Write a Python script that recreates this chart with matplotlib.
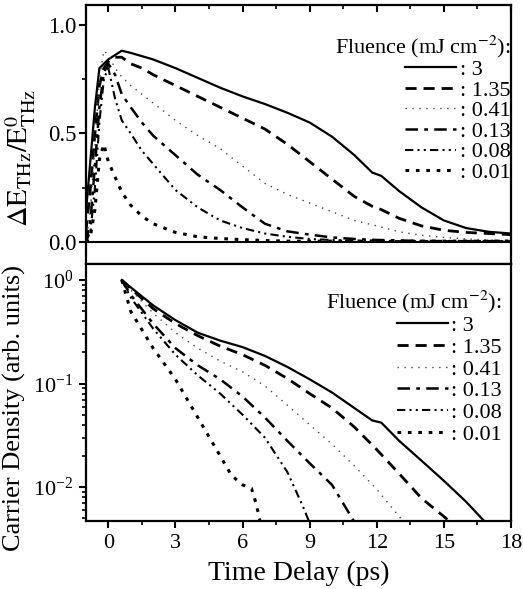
import matplotlib
matplotlib.use('Agg')
import matplotlib.pyplot as plt
from matplotlib.ticker import MultipleLocator, LogLocator, NullFormatter

plt.rcParams['font.family'] = ['Liberation Serif', 'DejaVu Serif']
plt.rcParams['mathtext.fontset'] = 'stix'

# fluence labels and line styles
fluences = ['3', '1.35', '0.41', '0.13', '0.08', '0.01']

# top panel: THz transmission change vs delay
t_top = [-1.0, -0.8, -0.6, -0.4, -0.2, 0.0, 0.3, 0.6, 1.0, 1.5, 2.0, 3.0, 4.0,
         5.0, 6.0, 7.0, 8.0, 9.0, 10.0, 11.0, 11.8, 12.2, 13.0, 14.0, 15.0,
         16.0, 17.0, 18.0]
dE_3 = [0.14, 0.38, 0.62, 0.80, 0.82, 0.84, 0.86, 0.88, 0.87, 0.855, 0.84,
        0.80, 0.755, 0.71, 0.67, 0.635, 0.595, 0.55, 0.485, 0.40, 0.32, 0.305,
        0.235, 0.16, 0.10, 0.065, 0.048, 0.04]
dE_135 = [0.05, 0.25, 0.50, 0.72, 0.80, 0.83, 0.85, 0.85, 0.82, 0.80, 0.77,
          0.72, 0.67, 0.62, 0.57, 0.52, 0.45, 0.37, 0.29, 0.21, 0.165, 0.15,
          0.11, 0.075, 0.055, 0.045, 0.04, 0.035]
dE_041 = [0.0, 0.15, 0.45, 0.75, 0.88, 0.86, 0.80, 0.76, 0.72, 0.68, 0.64,
          0.56, 0.49, 0.43, 0.35, 0.27, 0.22, 0.18, 0.14, 0.10, 0.08, 0.07,
          0.048, 0.032, 0.022, 0.015, 0.01, 0.008]
dE_013 = [0.0, 0.10, 0.35, 0.62, 0.78, 0.82, 0.77, 0.68, 0.62, 0.55, 0.49,
          0.40, 0.31, 0.24, 0.16, 0.085, 0.05, 0.035, 0.022, 0.015, 0.011,
          0.01, 0.008, 0.006, 0.005, 0.005, 0.005, 0.005]
dE_008 = [0.0, 0.05, 0.25, 0.55, 0.75, 0.80, 0.66, 0.56, 0.50, 0.42, 0.36,
          0.24, 0.16, 0.10, 0.065, 0.04, 0.025, 0.015, 0.01, 0.008, 0.007,
          0.006, 0.005, 0.005, 0.005, 0.005, 0.005, 0.005]
dE_001 = [0.0, 0.03, 0.15, 0.38, 0.45, 0.37, 0.30, 0.23, 0.17, 0.12, 0.085,
          0.045, 0.025, 0.017, 0.012, 0.008, 0.005, 0.005, 0.005, 0.005,
          0.005, 0.005, 0.005, 0.005, 0.005, 0.005, 0.005, 0.005]

# bottom panel: carrier density (log)
t_n3 = [0.6, 1, 2, 3, 4, 5, 6, 7, 8, 9, 10, 11, 11.8, 12.2, 13, 14, 15, 16, 16.8, 17]
n_3 = [1.0, 0.85, 0.57, 0.41, 0.31, 0.26, 0.225, 0.185, 0.145, 0.11, 0.082,
       0.058, 0.044, 0.042, 0.028, 0.018, 0.0115, 0.0072, 0.0047, 0.0042]
t_n135 = [0.6, 1, 2, 3, 4, 5, 6, 7, 8, 9, 10, 11, 12, 13, 14, 15, 15.5]
n_135 = [1.0, 0.83, 0.53, 0.38, 0.29, 0.23, 0.19, 0.15, 0.112, 0.08, 0.058,
         0.038, 0.023, 0.0135, 0.0078, 0.0052, 0.0042]
t_n041 = [0.6, 1, 2, 3, 4, 5, 6, 7, 8, 9, 10, 11, 12, 13, 13.3]
n_041 = [1.0, 0.8, 0.48, 0.31, 0.22, 0.165, 0.13, 0.095, 0.062, 0.04, 0.026,
         0.016, 0.0095, 0.0052, 0.0044]
t_n013 = [0.6, 1, 2, 3, 4, 5, 6, 7, 8, 9, 10, 11]
n_013 = [1.0, 0.72, 0.38, 0.22, 0.15, 0.11, 0.075, 0.047, 0.028, 0.017,
         0.0105, 0.0046]
t_n008 = [0.6, 1, 2, 3, 4, 5, 6, 7, 8, 8.7, 9]
n_008 = [1.0, 0.68, 0.34, 0.19, 0.12, 0.08, 0.05, 0.03, 0.014, 0.0065, 0.0045]
t_n001 = [0.6, 1, 2, 3, 4, 5, 5.5, 6, 6.4, 6.6, 6.8]
n_001 = [1.0, 0.5, 0.22, 0.11, 0.047, 0.02, 0.013, 0.0105, 0.0097, 0.007, 0.0045]

styles = [
    dict(ls='-', lw=1.6, color='black'),
    dict(ls=(0, (4, 2.5)), lw=2.0, color='black'),
    dict(ls=(0, (1, 4)), lw=1.0, color='#444444'),
    dict(ls=(0, (5, 2.5, 1.5, 2.5)), lw=1.8, color='black'),
    dict(ls=(0, (4, 2, 1, 2, 1, 2)), lw=1.5, color='black'),
    dict(ls=(0, (1.2, 2.2)), lw=2.2, color='black'),
]

top_series = [dE_3, dE_135, dE_041, dE_013, dE_008, dE_001]
bot_series = [(t_n3, n_3), (t_n135, n_135), (t_n041, n_041),
              (t_n013, n_013), (t_n008, n_008), (t_n001, n_001)]

fig = plt.figure(figsize=(5.23, 5.89), dpi=100)
ax1 = fig.add_axes([0.1644, 0.5518, 0.8126, 0.4397])
ax2 = fig.add_axes([0.1644, 0.1154, 0.8126, 0.4364])

for y, st, f in zip(top_series, styles, fluences):
    ax1.plot(t_top, y, label=': ' + f, **st)
ax1.axhline(0, color='black', lw=1.5)
ax1.set_xlim(-1, 18)
ax1.set_ylim(-0.1, 1.09)
ax1.yaxis.set_major_locator(MultipleLocator(0.5))
ax1.yaxis.set_minor_locator(MultipleLocator(0.25))
ax1.xaxis.set_major_locator(MultipleLocator(3))
ax1.xaxis.set_minor_locator(MultipleLocator(1.5))
ax1.tick_params(axis='x', which='both', bottom=False, top=True,
                direction='in', labelbottom=False)
ax1.tick_params(axis='x', which='major', length=5, width=1.5)
ax1.tick_params(axis='x', which='minor', length=3, width=1.2)
ax1.tick_params(axis='y', which='major', length=5, width=1.5, labelsize=16.5, pad=2)
ax1.tick_params(axis='y', which='minor', length=3, width=1.2)
ax1.yaxis.set_major_formatter(plt.FuncFormatter(lambda v, p: '%.1f' % v))
ax1.set_ylabel(r'$\Delta \mathrm{E}_{\mathrm{THz}}/\mathrm{E}^{0}_{\mathrm{THz}}$',
               fontsize=20.5)
ax1.yaxis.set_label_coords(-0.112, 0.41)
leg1 = ax1.legend(loc='upper right', bbox_to_anchor=(1.02, 0.925),
                  title='Fluence (mJ cm$^{-2}$):', frameon=False, fontsize=16,
                  title_fontsize=16, handlelength=2.3, handletextpad=0.15,
                  labelspacing=0.0, alignment='right', borderaxespad=0)

for (t, n), st, f in zip(bot_series, styles, fluences):
    ax2.plot(t, n, label=': ' + f, **st)
ax2.set_yscale('log')
ax2.set_xlim(-1, 18)
ax2.set_ylim(0.0047, 1.43)
ax2.xaxis.set_major_locator(MultipleLocator(3))
ax2.xaxis.set_minor_locator(MultipleLocator(1.5))
ax2.yaxis.set_major_locator(LogLocator(base=10, numticks=10))
ax2.yaxis.set_minor_locator(LogLocator(base=10, subs=range(2, 10), numticks=10))
ax2.yaxis.set_minor_formatter(NullFormatter())
ax2.tick_params(which='major', length=5, width=1.5, labelsize=16, pad=4)
ax2.tick_params(which='minor', length=3, width=1.2)
ax2.set_xlabel('Time Delay (ps)', fontsize=20, labelpad=6)
ax2.set_ylabel('Carrier Density (arb. units)', fontsize=19)
ax2.yaxis.set_label_coords(-0.14, 0.44)
leg2 = ax2.legend(loc='upper right', bbox_to_anchor=(1.0, 0.94),
                  title='Fluence (mJ cm$^{-2}$):', frameon=False, fontsize=16,
                  title_fontsize=16, handlelength=2.3, handletextpad=0.15,
                  labelspacing=0.05, alignment='right', borderaxespad=0)

for ax in (ax1, ax2):
    for s in ax.spines.values():
        s.set_linewidth(1.6)

fig.savefig('out.png', dpi=100)
